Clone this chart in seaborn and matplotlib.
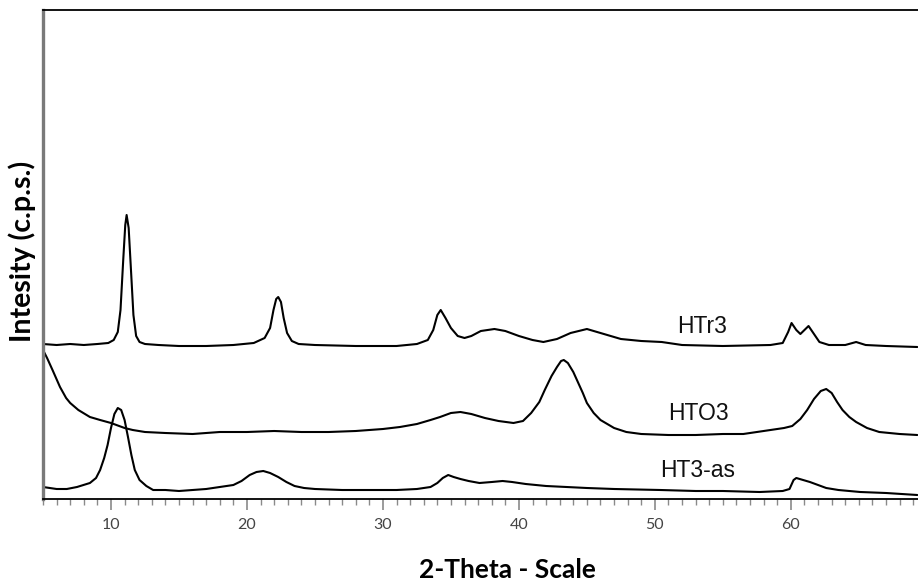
import matplotlib
matplotlib.use("Agg")
import matplotlib.pyplot as plt
import numpy as np
import pandas as pd
import seaborn as sns
from matplotlib.ticker import MultipleLocator, FixedLocator

# 2-theta positions (degrees) and intensities (arbitrary counts) of the three patterns
htr3_theta = [5.0, 6.0, 7.0, 8.0, 9.0, 9.8, 10.2, 10.5, 10.7, 10.9, 11.05, 11.15, 11.3, 11.45,
              11.65, 11.85, 12.1, 12.5, 13.5, 15, 17, 19, 20.5, 21.3, 21.7, 21.95, 22.15, 22.3,
              22.5, 22.7, 22.95, 23.3, 23.8, 25, 28, 31, 32.5, 33.3, 33.7, 34.0, 34.25, 34.6,
              35.0, 35.5, 36.0, 36.5, 37.2, 38.2, 39.0, 40.0, 41.0, 41.8, 42.8, 43.8, 45.0,
              46.0, 47.5, 49.0, 50.5, 52, 55, 58.5, 59.4, 59.8, 60.05, 60.4, 60.7, 61.0, 61.3,
              61.7, 62.1, 62.8, 64.0, 64.8, 65.5, 67, 69.3]
htr3_counts = [155, 154, 155, 154, 155, 156, 159, 167, 189, 239, 274, 284, 271, 234,
               184, 163, 157, 155, 154, 153, 153, 154, 156, 161, 171, 189, 200, 202,
               197, 181, 166, 158, 155, 154, 153, 153, 155, 159, 169, 184, 189, 181,
               171, 163, 161, 163, 168, 170, 168, 163, 159, 157, 160, 166, 170,
               166, 160, 158, 157, 154, 153, 154, 156, 167, 176, 169, 165, 169, 173,
               165, 157, 154, 154, 157, 154, 153, 152]

hto3_theta = [5.0, 5.3, 5.7, 6.25, 6.7, 7.0, 7.6, 8.45, 9.2, 10.0, 11.0, 11.6, 12.5, 14, 16,
              18, 20, 22, 24, 26, 28, 30, 31.25, 32.5, 33.5, 34.2, 35.0, 35.7, 36.5, 37.5,
              38.5, 39.6, 40.3, 40.9, 41.5, 41.9, 42.4, 42.8, 43.1, 43.3, 43.6, 44.0, 44.3,
              44.7, 45.0, 45.5, 46.0, 47.0, 47.9, 49, 51, 53, 55, 56.5, 57.5, 58.5, 59.5,
              60.1, 60.7, 61.2, 61.7, 62.2, 62.6, 63.0, 63.4, 63.8, 64.3, 64.8, 65.6, 66.5,
              68, 69.3]
hto3_counts = [149, 141, 129, 112, 101, 96, 89, 82, 79, 76, 71, 69, 67, 66, 65,
               67, 67, 68, 67, 67, 68, 70, 72, 75, 79, 82, 86, 87, 85, 81,
               78, 76, 78, 86, 97, 109, 123, 132, 138, 139, 136, 127, 118,
               106, 96, 86, 79, 71, 67, 65, 64, 64, 65, 65, 67, 69, 71,
               73, 80, 89, 100, 108, 110, 106, 97, 89, 82, 77, 71, 67,
               65, 64]

ht3_theta = [5.0, 6.0, 6.75, 7.5, 8.45, 8.9, 9.2, 9.5, 9.75, 10.0, 10.25, 10.5, 10.75, 11.0,
             11.25, 11.5, 11.75, 12.1, 12.6, 13.1, 14, 15, 16, 17, 18, 19, 19.6, 20.2, 20.7,
             21.2, 21.7, 22.3, 22.9, 23.5, 24.2, 25, 27, 29, 31, 32.5, 33.5, 34.0, 34.4, 34.8,
             35.2, 35.7, 36.3, 37.1, 38.0, 38.8, 39.5, 40.5, 42, 43.5, 45, 47, 50.4, 53, 55,
             57.7, 59.4, 59.9, 60.2, 60.4, 60.9, 61.4, 62.0, 62.6, 63.5, 65.1, 67, 69.3]
ht3_counts = [12, 10, 10, 12, 16, 21, 29, 41, 54, 71, 85, 91, 89, 79,
              62, 44, 29, 19, 13, 9, 9, 8, 9, 10, 12, 14, 18, 24, 27,
              28, 26, 22, 17, 13, 11, 10, 9, 9, 9, 10, 12, 16, 21, 24,
              22, 20, 18, 16, 17, 18, 17, 15, 13, 12, 11, 10, 9, 8, 8,
              7, 8, 10, 19, 21, 19, 17, 14, 11, 9, 7, 6, 4]

series_names = ["HTr3", "HTO3", "HT3-as"]
# label anchor (2-theta, counts at text baseline) for each pattern
label_theta = [53.45, 53.2, 53.15]
label_counts = [166, 79, 22]

frames = []
for name, th, ct in zip(series_names,
                        [htr3_theta, hto3_theta, ht3_theta],
                        [htr3_counts, hto3_counts, ht3_counts]):
    frames.append(pd.DataFrame({"theta": th, "counts": ct, "sample": name}))
data = pd.concat(frames, ignore_index=True)

sns.set_theme(style="white")
plt.rcParams["font.family"] = ["Lato", "DejaVu Sans"]

W, H = 918, 587
fig = plt.figure(figsize=(W / 100, H / 100), dpi=100)
ax = fig.add_axes([43 / W, (H - 499) / H, (W - 43) / W, (499 - 10) / H])

sns.lineplot(data=data, x="theta", y="counts", units="sample", estimator=None,
             color="black", linewidth=1.5, sort=False, ax=ax)

ax.set_xlim(5, 69.35)
ax.set_ylim(0, 489)

# sample labels beside each pattern
for name, x, y in zip(series_names, label_theta, label_counts):
    ax.text(x, y, name, family=["Liberation Sans", "DejaVu Sans"], fontsize=16.5,
            ha="center", va="baseline", color="#111111")

# spines
ax.spines["right"].set_visible(False)
ax.spines["top"].set_color("black")
ax.spines["top"].set_linewidth(1.3)
ax.spines["bottom"].set_color("black")
ax.spines["bottom"].set_linewidth(1.3)
ax.spines["left"].set_color("#7a7a7a")
ax.spines["left"].set_linewidth(2.4)

# ticks
ax.set_yticks([])
ax.xaxis.set_major_locator(FixedLocator([10, 20, 30, 40, 50, 60]))
ax.xaxis.set_minor_locator(MultipleLocator(1))
ax.tick_params(axis="x", which="major", direction="out", length=8, width=1.2,
               color="#8a8a8a", labelsize=11.5, labelcolor="#444444", pad=6, bottom=True)
ax.tick_params(axis="x", which="minor", direction="out", length=4, width=1.0,
               color="#8a8a8a", bottom=True)

ax.set_xlabel("2-Theta - Scale", fontsize=19, fontweight="bold", color="black")
ax.set_ylabel("Intesity (c.p.s.)", fontsize=20.5, fontweight="bold", color="black")
ax.xaxis.set_label_coords((507 - 43) / 875, -(558 - 499) / 489)
ax.yaxis.set_label_coords(-(43 - 36) / 875, 1 - (251 - 10) / 489)

fig.savefig("out.png", dpi=100)
